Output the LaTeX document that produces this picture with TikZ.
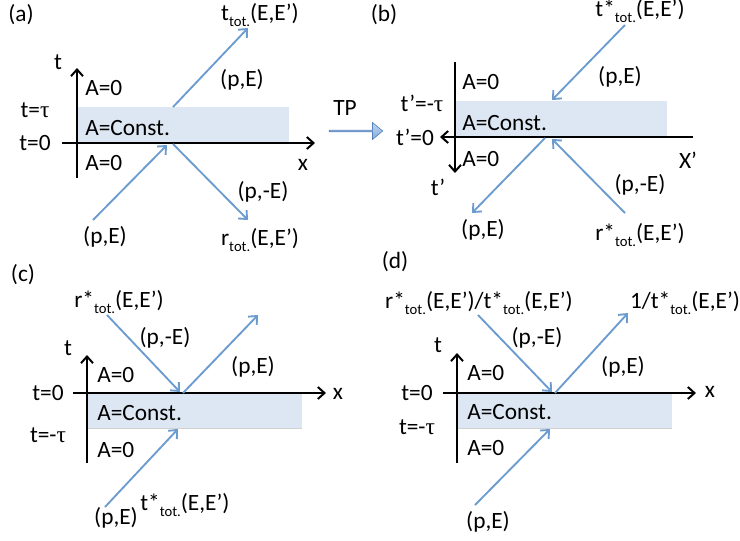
\documentclass[tikz,border=0pt]{standalone}
\usepackage{fontspec}
\setmainfont{Carlito}
\newfontfamily\taufont{Liberation Serif}
\usetikzlibrary{arrows.meta,shapes.arrows}
\definecolor{rayblue}{RGB}{108,155,208}
\definecolor{bandblue}{RGB}{221,231,243}
\definecolor{tpfill}{RGB}{130,172,222}
\definecolor{tpedge}{RGB}{84,130,190}
\newcommand\tsub{\raisebox{-0.5ex}{\fontsize{11}{11}\selectfont tot.}}
\newcommand\tauch{{\taufont τ}}
\begin{document}
\begin{tikzpicture}[x=0.75pt,y=-0.75pt,
  lbl/.style={inner sep=0pt, font=\fontsize{17.5}{20}\selectfont},
  lblw/.style={lbl, anchor=west},
  axis/.style={line width=1.5pt, -{Straight Barb[length=5pt,width=9pt]}},
  ray/.style={draw=rayblue, line width=1.4pt, -{Straight Barb[length=5pt,width=9pt]}},
  band/.style={fill=bandblue, draw=none},
  bandedge/.style={draw=black!18, line width=0.6pt}]
\useasboundingbox (0,0) rectangle (740,540);

% ---------------- (a) ----------------
\node[lbl] (a-tag) at (21,15) {(a)};
\fill[band] (77,107) rectangle (289,143);
\coordinate (a-t0) at (77,178);  \coordinate (a-t1) at (77,68);
\coordinate (a-x0) at (62,143);  \coordinate (a-x1) at (315,143);
\draw[axis] (a-t0) -- (a-t1);
\draw[axis] (a-x0) -- (a-x1);
\coordinate (a-in0) at (93,220);   \coordinate (a-in1) at (167,145);
\coordinate (a-tr0) at (173,107);  \coordinate (a-tr1) at (248,28);
\coordinate (a-rf0) at (173,144);  \coordinate (a-rf1) at (248,220);
\draw[ray] (a-in0) -- (a-in1);
\draw[ray] (a-tr0) -- (a-tr1);
\draw[ray] (a-rf0) -- (a-rf1);
\node[lbl] (a-tl) at (58,62) {t};
\node[lbl] (a-xl) at (303,165) {x};
\node[lblw] (a-A1) at (85,88) {A=0};
\node[lblw] (a-Ac) at (85,128) {A=Const.};
\node[lblw] (a-A2) at (85,163) {A=0};
\node[lbl] (a-ttau) at (35,110) {t=\tauch};
\node[lbl] (a-tzero) at (35,143) {t=0};
\node[lbl] (a-pe1) at (242,80) {(p,E)};
\node[lbl] (a-ttot) at (260,15) {t\tsub(E,E’)};
\node[lbl] (a-pme) at (263,192) {(p,-E)};
\node[lbl] (a-pe0) at (105,237) {(p,E)};
\node[lbl] (a-rtot) at (260,240) {r\tsub(E,E’)};

% ---------------- TP ----------------
\node[lbl] (tp-l) at (345,108) {TP};
\node[single arrow, minimum height=40pt, minimum width=12.75pt,
  single arrow head extend=2.6pt, single arrow tip angle=80, inner sep=0pt,
  draw=tpedge, line width=0.5pt, top color=tpfill!50, bottom color=tpfill]
  (tp) at (355.5,131) {};

% ---------------- (b) ----------------
\node[lbl] (b-tag) at (384,15) {(b)};
\fill[band] (455,101) rectangle (667,137);
\coordinate (b-t0) at (455,62);  \coordinate (b-t1) at (455,173);
\coordinate (b-x0) at (693,137); \coordinate (b-x1) at (440,137);
\draw[axis] (b-t0) -- (b-t1);
\draw[axis] (b-x0) -- (b-x1);
\coordinate (b-r10) at (625,25);   \coordinate (b-r11) at (552,100);
\coordinate (b-r20) at (545,138);  \coordinate (b-r21) at (472,213);
\coordinate (b-r30) at (625,213);  \coordinate (b-r31) at (552,139);
\draw[ray] (b-r10) -- (b-r11);
\draw[ray] (b-r20) -- (b-r21);
\draw[ray] (b-r30) -- (b-r31);
\node[lbl] (b-ttot) at (640,11) {t*\tsub(E,E’)};
\node[lbl] (b-pe1) at (620,77) {(p,E)};
\node[lblw] (b-A1) at (462,82) {A=0};
\node[lbl] (b-ttau) at (422,103) {t’=-\tauch};
\node[lblw] (b-Ac) at (462,123) {A=Const.};
\node[lbl] (b-tzero) at (415,137) {t’=0};
\node[lblw] (b-A2) at (462,159) {A=0};
\node[lbl] (b-xl) at (688,160) {X’};
\node[lbl] (b-tl) at (438,187) {t’};
\node[lbl] (b-pme) at (640,185) {(p,-E)};
\node[lbl] (b-pe0) at (483,230) {(p,E)};
\node[lbl] (b-rtot) at (640,235) {r*\tsub(E,E’)};

% ---------------- (c) ----------------
\node[lbl] (c-tag) at (23,275) {(c)};
\fill[band] (87,393) rectangle (302,428);
\draw[bandedge] (87,428) -- (302,428);
\coordinate (c-t0) at (87,463);  \coordinate (c-t1) at (87,355);
\coordinate (c-x0) at (73,393);  \coordinate (c-x1) at (326,393);
\draw[axis] (c-t0) -- (c-t1);
\draw[axis] (c-x0) -- (c-x1);
\coordinate (c-r10) at (107,315);  \coordinate (c-r11) at (180,392);
\coordinate (c-r20) at (183,393);  \coordinate (c-r21) at (258,315);
\coordinate (c-r30) at (105,507);  \coordinate (c-r31) at (178,429);
\draw[ray] (c-r10) -- (c-r11);
\draw[ray] (c-r20) -- (c-r21);
\draw[ray] (c-r30) -- (c-r31);
\node[lbl] (c-rtot) at (119,302) {r*\tsub(E,E’)};
\node[lbl] (c-tl) at (68,348) {t};
\node[lbl] (c-xl) at (338,394) {x};
\node[lbl] (c-pme) at (165,338) {(p,-E)};
\node[lbl] (c-pe1) at (253,367) {(p,E)};
\node[lblw] (c-A1) at (97,375) {A=0};
\node[lbl] (c-tzero) at (48,393) {t=0};
\node[lblw] (c-Ac) at (97,413) {A=Const.};
\node[lbl] (c-ttau) at (48,435) {t=-\tauch};
\node[lblw] (c-A2) at (97,450) {A=0};
\node[lbl] (c-pe0) at (116,518) {(p,E)};
\node[lbl, anchor=west] (c-ttot) at ([xshift=1.5pt]c-pe0.east |- 0,505) {t*\tsub(E,E’)};

% ---------------- (d) ----------------
\node[lbl] (d-tag) at (395,262) {(d)};
\fill[band] (457,393) rectangle (672,428);
\draw[bandedge] (457,428) -- (672,428);
\coordinate (d-t0) at (457,463);  \coordinate (d-t1) at (457,353);
\coordinate (d-x0) at (443,393);  \coordinate (d-x1) at (696,393);
\draw[axis] (d-t0) -- (d-t1);
\draw[axis] (d-x0) -- (d-x1);
\coordinate (d-r10) at (478,315);  \coordinate (d-r11) at (552,392);
\coordinate (d-r20) at (555,393);  \coordinate (d-r21) at (628,313);
\coordinate (d-r30) at (475,505);  \coordinate (d-r31) at (550,429);
\draw[ray] (d-r10) -- (d-r11);
\draw[ray] (d-r20) -- (d-r21);
\draw[ray] (d-r30) -- (d-r31);
\node[lbl] (d-rtot) at (479,303) {r*\tsub(E,E’)/t*\tsub(E,E’)};
\node[lbl] (d-ttot) at (685,303) {1/t*\tsub(E,E’)};
\node[lbl] (d-pme) at (537,338) {(p,-E)};
\node[lbl] (d-pe1) at (623,367) {(p,E)};
\node[lbl] (d-tl) at (438,345) {t};
\node[lbl] (d-xl) at (710,392) {x};
\node[lblw] (d-A1) at (467,373) {A=0};
\node[lbl] (d-tzero) at (417,393) {t=0};
\node[lblw] (d-Ac) at (467,412) {A=Const.};
\node[lbl] (d-ttau) at (417,427) {t=-\tauch};
\node[lblw] (d-A2) at (467,448) {A=0};
\node[lbl] (d-pe0) at (488,522) {(p,E)};
\end{tikzpicture}
\end{document}
